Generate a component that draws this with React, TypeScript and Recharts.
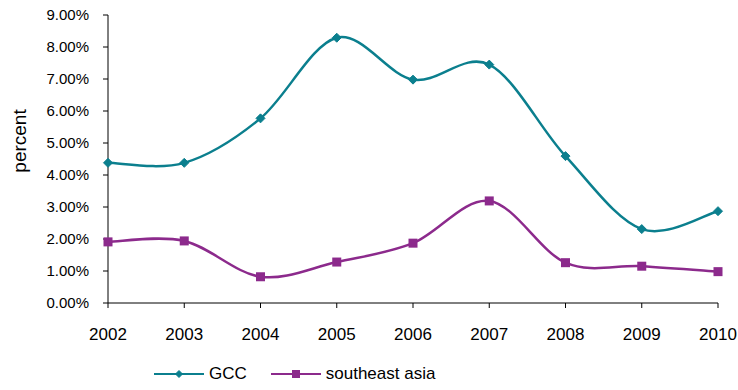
import React from 'react';
import { LineChart, Line, XAxis, YAxis } from 'recharts';

// Annual rates (percent), 2002–2010
const years = ['2002', '2003', '2004', '2005', '2006', '2007', '2008', '2009', '2010'];
const gccRates = [4.38, 4.38, 5.77, 8.29, 6.98, 7.45, 4.59, 2.31, 2.87];
const seAsiaRates = [1.91, 1.94, 0.82, 1.28, 1.87, 3.19, 1.26, 1.15, 0.98];
const yTicks = [0, 1, 2, 3, 4, 5, 6, 7, 8, 9];

const GCC_COLOR = '#0B7F8E';
const SEA_COLOR = '#8C2A8C';
const FONT = '"Liberation Sans", Arial, Helvetica, sans-serif';

const data = years.map((year, i) => ({ year, gcc: gccRates[i], sea: seAsiaRates[i] }));

// Smoothed line through the points: cubic Bezier segments with
// Catmull-Rom style control points (like spreadsheet "smoothed lines").
const smoothCurve = (context: any) => {
  let pts: number[][] = [];
  return {
    areaStart() {},
    areaEnd() {},
    lineStart() {
      pts = [];
    },
    point(x: number, y: number) {
      pts.push([+x, +y]);
    },
    lineEnd() {
      const n = pts.length;
      if (!n) return;
      context.moveTo(pts[0][0], pts[0][1]);
      for (let i = 0; i < n - 1; i++) {
        const p0 = pts[i - 1] || pts[i];
        const p1 = pts[i];
        const p2 = pts[i + 1];
        const p3 = pts[i + 2] || p2;
        context.bezierCurveTo(
          p1[0] + (p2[0] - p0[0]) / 6,
          p1[1] + (p2[1] - p0[1]) / 6,
          p2[0] - (p3[0] - p1[0]) / 6,
          p2[1] - (p3[1] - p1[1]) / 6,
          p2[0],
          p2[1]
        );
      }
    },
  };
};

const Diamond = ({ cx, cy, r, color }: { cx: number; cy: number; r: number; color: string }) => (
  <path d={`M${cx},${cy - r}L${cx + r},${cy}L${cx},${cy + r}L${cx - r},${cy}Z`} fill={color} stroke={color} strokeWidth={1} />
);

const Square = ({ cx, cy, s, color }: { cx: number; cy: number; s: number; color: string }) => (
  <rect x={cx - s / 2} y={cy - s / 2} width={s} height={s} fill={color} />
);

const gccDot = (props: any) => (
  <Diamond key={`gcc-${props.index}`} cx={props.cx} cy={props.cy} r={4.5} color={GCC_COLOR} />
);
const seaDot = (props: any) => (
  <Square key={`sea-${props.index}`} cx={props.cx} cy={props.cy} s={9} color={SEA_COLOR} />
);

const legendItems = [
  { name: 'GCC', color: GCC_COLOR, shape: 'diamond' },
  { name: 'southeast asia', color: SEA_COLOR, shape: 'square' },
];

const LegendRow = () => (
  <div
    style={{
      position: 'absolute',
      left: 154,
      top: 364,
      display: 'flex',
      alignItems: 'center',
      fontFamily: FONT,
      fontSize: 17,
      color: '#000',
      lineHeight: '20px',
    }}
  >
    {legendItems.map((item, i) => (
      <div key={item.name} style={{ display: 'flex', alignItems: 'center', marginRight: i === 0 ? 24 : 0 }}>
        <svg width={50} height={20} style={{ display: 'block' }}>
          <line x1={0} y1={10} x2={50} y2={10} stroke={item.color} strokeWidth={2} />
          {item.shape === 'diamond' ? (
            <Diamond cx={25} cy={10} r={3.5} color={item.color} />
          ) : (
            <Square cx={25} cy={10} s={8} color={item.color} />
          )}
        </svg>
        <span style={{ marginLeft: 5 }}>{item.name}</span>
      </div>
    ))}
  </div>
);

const YTitle = () => (
  <text
    x={19}
    y={141}
    transform="rotate(-90 19 141)"
    textAnchor="middle"
    dominantBaseline="central"
    fontFamily={FONT}
    fontSize={19}
    fill="#000"
  >
    percent
  </text>
);

export default function App() {
  return (
    <div style={{ position: 'absolute', left: 0, top: 0, width: 738, height: 390, background: '#fff' }}>
      <LineChart width={738} height={390} data={data} margin={{ top: 15, right: 20, bottom: 57, left: 0 }}>
        <XAxis
          dataKey="year"
          height={30}
          axisLine={{ stroke: '#000', strokeWidth: 1 }}
          tickLine={{ stroke: '#000' }}
          tickSize={5}
          tickMargin={20}
          tick={{ fill: '#000', fontSize: 17, fontFamily: FONT }}
          interval={0}
        />
        <YAxis
          width={108}
          domain={[0, 9]}
          ticks={yTicks}
          interval={0}
          tickFormatter={(v: number) => `${v.toFixed(2)}%`}
          axisLine={{ stroke: '#000', strokeWidth: 1 }}
          tickLine={{ stroke: '#000' }}
          tickSize={5}
          tickMargin={14}
          tick={{ fill: '#000', fontSize: 15, fontFamily: FONT }}
          label={<YTitle />}
        />
        <Line
          dataKey="gcc"
          name="GCC"
          type={smoothCurve as any}
          stroke={GCC_COLOR}
          strokeWidth={2.5}
          dot={gccDot}
          activeDot={false}
          isAnimationActive={false}
        />
        <Line
          dataKey="sea"
          name="southeast asia"
          type={smoothCurve as any}
          stroke={SEA_COLOR}
          strokeWidth={2.5}
          dot={seaDot}
          activeDot={false}
          isAnimationActive={false}
        />
      </LineChart>
      <LegendRow />
    </div>
  );
}
